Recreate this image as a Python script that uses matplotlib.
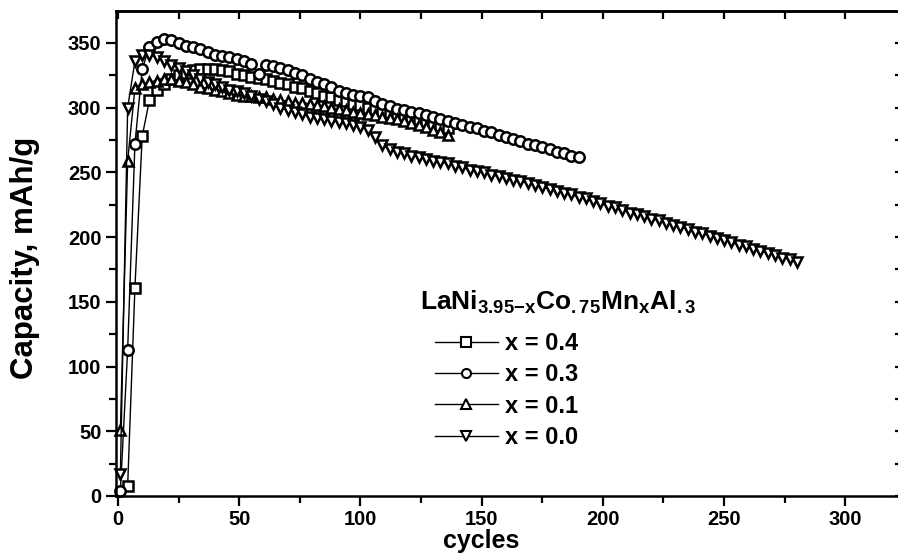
"""Capacity vs. cycles for LaNi(3.95-x)Co.75MnxAl.3 electrodes."""

import matplotlib

matplotlib.use("Agg")
import matplotlib.pyplot as plt
from matplotlib.ticker import MultipleLocator

# Cycle numbers and discharge capacities (mAh/g).
cycles_x04 = list(range(4, 137, 3))
capacity_x04 = [
    8, 161, 278, 306, 314, 318, 322, 325, 327, 329,
    330, 330, 330, 329, 328, 326, 325, 324, 323, 322,
    321, 319, 318, 316, 315, 313, 311, 309, 308, 306,
    305, 303, 302, 300, 299, 297, 296, 294, 293, 291,
    290, 288, 287, 286, 284,
]

cycles_x03 = list(range(1, 191, 3))
capacity_x03 = [
    4, 113, 272, 330, 347, 351, 353, 352, 350, 348,
    347, 345, 343, 341, 340, 339, 338, 336, 334, 326,
    333, 332, 331, 329, 327, 325, 322, 320, 318, 316,
    313, 311, 310, 309, 308, 305, 303, 301, 299, 298,
    297, 296, 294, 293, 291, 290, 288, 287, 285, 284,
    282, 281, 279, 277, 276, 274, 272, 271, 270, 268,
    266, 265, 263, 262,
]

cycles_x01 = list(range(1, 137, 3))
capacity_x01 = [
    51, 259, 315, 318, 320, 321, 322, 322, 321, 320,
    318, 316, 315, 314, 313, 311, 310, 309, 309, 308,
    308, 307, 306, 305, 304, 304, 303, 302, 301, 300,
    299, 298, 297, 296, 295, 294, 293, 292, 291, 290,
    288, 287, 285, 283, 281, 279,
]

cycles_x00 = list(range(1, 281, 3))
capacity_x00 = [
    17, 300, 336, 341, 341, 339, 336, 333, 331, 328,
    325, 322, 320, 318, 316, 314, 313, 311, 309, 307,
    305, 303, 300, 298, 297, 295, 293, 292, 291, 290,
    289, 288, 287, 285, 283, 277, 271, 268, 266, 265,
    263, 262, 260, 259, 258, 257, 255, 254, 252, 251,
    250, 248, 247, 246, 244, 243, 242, 240, 239, 237,
    236, 234, 233, 231, 230, 228, 226, 224, 223, 221,
    219, 218, 216, 214, 213, 211, 209, 208, 206, 204,
    203, 201, 199, 198, 196, 194, 193, 191, 189, 188,
    186, 184, 183, 181,
]

series_labels = ["x = 0.4", "x = 0.3", "x = 0.1", "x = 0.0"]
series_markers = ["s", "o", "^", "v"]
legend_title = r"LaNi$_{3.95{-}x}$Co$_{.75}$Mn$_{x}$Al$_{.3}$"

plt.rcParams["font.family"] = ["Liberation Sans", "DejaVu Sans"]
plt.rcParams["font.weight"] = "bold"
plt.rcParams["mathtext.fontset"] = "custom"
plt.rcParams["mathtext.rm"] = "Liberation Sans:bold"
plt.rcParams["mathtext.it"] = "Liberation Sans:bold"
plt.rcParams["mathtext.bf"] = "Liberation Sans:bold"


def draw():
    fig = plt.figure(figsize=(8.98, 5.54), dpi=100)
    ax = fig.add_axes([0.1292, 0.1047, 0.8764, 0.8754])

    data = [
        (cycles_x04, capacity_x04),
        (cycles_x03, capacity_x03),
        (cycles_x01, capacity_x01),
        (cycles_x00, capacity_x00),
    ]
    for (x, y), label, marker in zip(data, series_labels, series_markers):
        ax.plot(
            x, y,
            color="black", lw=1.0,
            marker=marker, ms=7.5, mfc="white", mec="black", mew=1.8,
            label=label, clip_on=False,
        )

    ax.set_xlim(-0.8, 323.8)
    ax.set_ylim(0, 374.7)

    ax.xaxis.set_major_locator(MultipleLocator(50))
    ax.xaxis.set_minor_locator(MultipleLocator(25))
    ax.yaxis.set_major_locator(MultipleLocator(50))
    ax.yaxis.set_minor_locator(MultipleLocator(25))
    ax.tick_params(which="both", direction="out", width=1.6, labelsize=14.5)
    ax.tick_params(which="major", length=7)
    ax.tick_params(which="minor", length=5)
    ax.tick_params(axis="x", pad=3)

    # mirrored ticks pointing inwards on top and right
    top = ax.secondary_xaxis("top")
    top.xaxis.set_major_locator(MultipleLocator(50))
    top.xaxis.set_minor_locator(MultipleLocator(25))
    top.tick_params(which="both", direction="in", width=1.6, length=6,
                    labeltop=False)
    right = ax.secondary_yaxis("right")
    right.yaxis.set_major_locator(MultipleLocator(50))
    right.yaxis.set_minor_locator(MultipleLocator(25))
    right.tick_params(which="both", direction="in", width=1.6, length=6,
                      labelright=False)

    for spine in list(ax.spines.values()):
        spine.set_linewidth(1.8)
    top.spines["top"].set_linewidth(1.8)
    right.spines["right"].set_linewidth(1.8)

    ax.set_xlabel("cycles", fontsize=18, fontweight="bold")
    ax.set_ylabel("Capacity, mAh/g", fontsize=22.5, fontweight="bold")
    ax.xaxis.set_label_coords(0.464, -0.069)
    ax.yaxis.set_label_coords(-0.097, 0.49)

    # title of the legend drawn as its own text, entries below it
    ax.text(0.386, 0.40, legend_title, transform=ax.transAxes,
            fontsize=19, fontweight="bold", ha="left", va="center")
    leg = ax.legend(
        loc="upper left",
        bbox_to_anchor=(0.405, 0.338),
        frameon=False,
        fontsize=17,
        handlelength=2.67,
        handletextpad=0.3,
        labelspacing=0.35,
        borderaxespad=0,
        borderpad=0,
    )
    for line in leg.get_lines():
        line.set_markersize(6.5)
        line.set_markeredgewidth(1.5)

    fig.savefig("out.png", dpi=100)
    plt.close(fig)


if __name__ == "__main__":
    draw()
